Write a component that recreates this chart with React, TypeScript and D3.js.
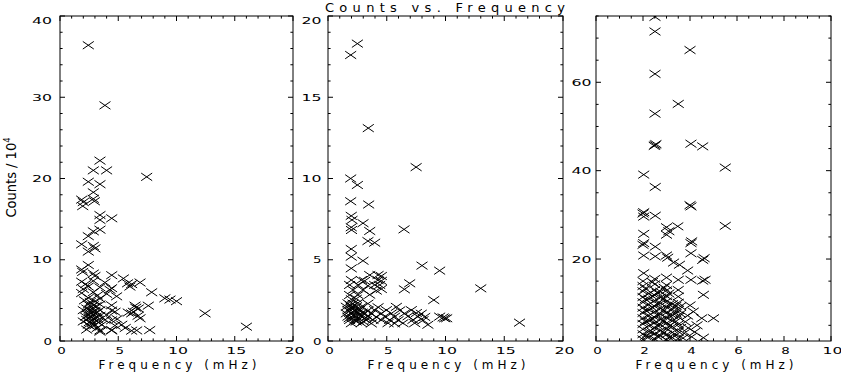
import React from "react";
import * as d3 from "d3";

const W = 841;
const H = 375;
const TOP = 16;
const BOTTOM = 341;

const title = "Counts vs. Frequency";
const xTitle = "Frequency (mHz)";
const yTitle = "Counts / 10";
const yTitleSup = "4";

type Pt = [number, number];

// panel 1 : counts (1e4) vs frequency (mHz)
const pointsA: Pt[] = [
  [2.43, 36.4], [3.86, 29.0], [3.43, 22.2], [2.86, 21.0], [4.0, 21.0], [7.44, 20.2],
  [2.43, 19.6], [3.43, 19.3], [2.86, 18.3], [2.86, 17.5], [2.95, 17.2], [1.86, 17.4],
  [2.0, 17.1], [1.95, 16.6], [3.43, 15.5], [4.44, 15.1], [3.43, 14.9], [3.43, 13.7],
  [2.86, 13.5], [2.43, 12.9], [1.86, 11.9], [2.86, 11.7], [3.0, 11.4], [2.43, 11.0],
  [2.43, 9.35], [1.86, 8.8], [1.95, 8.5], [2.86, 8.3], [3.0, 8.0], [4.44, 8.1],
  [5.44, 7.7], [5.8, 7.1], [6.15, 7.0], [6.87, 7.2], [6.0, 6.7], [7.87, 6.0],
  [9.0, 5.25], [9.44, 5.1], [10.0, 4.9], [12.45, 3.4], [16.0, 1.76], [7.7, 1.35],
  [6.44, 4.35], [6.72, 4.0], [7.58, 4.35], [5.86, 3.5], [6.15, 3.4], [6.87, 2.8],
  [6.15, 1.27], [6.58, 1.3], [4.44, 1.35], [3.43, 1.15],
  [1.86, 7.3], [2.86, 7.4], [3.86, 7.2], [2.2, 7.0],
  [2.43, 6.7], [3.43, 6.6], [4.43, 6.5], [2.0, 6.4],
  [1.86, 5.9], [2.86, 6.0], [4.0, 5.8], [3.2, 5.6],
  [2.43, 5.3], [3.43, 5.2], [2.1, 5.0],
  [2.43, 4.5], [2.86, 4.4], [2.7, 4.2], [3.43, 4.5], [4.43, 4.4], [3.1, 4.3], [2.3, 4.0],
  [2.0, 3.8], [2.58, 3.85], [3.0, 3.7], [3.43, 3.8], [4.43, 3.75], [2.8, 3.6], [2.5, 3.5],
  [2.43, 3.2], [2.86, 3.3], [3.43, 3.1], [4.0, 3.2], [2.2, 3.0], [3.1, 3.0],
  [2.29, 2.6], [2.72, 2.5], [3.29, 2.6], [3.86, 2.6], [4.43, 2.55], [2.0, 2.4],
  [2.43, 2.0], [3.0, 1.95], [3.58, 2.0], [4.72, 1.9], [2.8, 2.2],
  [2.29, 1.4], [3.43, 1.3], [4.43, 1.3],
  [4.29, 6.3], [4.86, 5.5], [4.72, 3.6], [5.3, 2.0], [4.9, 2.7], [5.6, 1.6],
  [6.3, 3.6], [6.5, 4.1], [6.7, 3.1],
  [2.6, 1.8], [3.2, 1.6], [2.5, 2.9], [3.2, 3.5], [2.7, 3.0], [3.3, 2.3], [2.9, 2.7],
  [2.6, 4.8], [3.0, 4.9], [2.5, 2.3],
];

// panel 2
const pointsB: Pt[] = [
  [1.93, 17.6], [2.5, 18.3], [3.43, 13.1], [7.5, 10.7], [1.93, 10.0], [2.5, 9.6],
  [1.93, 8.6], [3.46, 8.4], [1.98, 7.7], [2.04, 7.45], [2.98, 7.25], [1.98, 7.0],
  [2.0, 6.83], [3.55, 6.77], [6.47, 6.87], [3.4, 6.15], [3.97, 6.05], [1.98, 5.66],
  [1.98, 5.19], [2.98, 4.94], [1.98, 4.47], [8.0, 4.64], [9.5, 4.33], [13.0, 3.24],
  [6.5, 3.18], [6.95, 3.55], [9.0, 2.52], [16.3, 1.13], [8.5, 1.0], [9.5, 1.5],
  [9.93, 1.4], [9.8, 1.45], [10.1, 1.4],
  [3.55, 4.06], [4.26, 4.06], [4.54, 4.0],
  [1.99, 3.75], [2.84, 3.75], [3.12, 3.7], [4.26, 3.75], [4.54, 3.7],
  [1.84, 3.45], [2.55, 3.45], [3.4, 3.4], [3.97, 3.45], [4.4, 3.45],
  [2.13, 3.14], [2.98, 3.14], [4.11, 3.1], [4.54, 3.2],
  [1.84, 2.83], [2.55, 2.83], [3.55, 2.85],
  [1.99, 2.57], [2.41, 2.6],
  [1.7, 2.32], [2.13, 2.3], [2.55, 2.35], [3.4, 2.3],
  [1.56, 2.11], [1.99, 2.1], [2.41, 2.12], [2.84, 2.1], [4.26, 2.08], [5.82, 2.1],
  [1.7, 1.9], [2.27, 1.9], [2.7, 1.92], [3.4, 1.88], [3.97, 1.9], [4.97, 1.9], [6.1, 1.88], [7.09, 1.9],
  [1.56, 1.7], [1.99, 1.7], [2.55, 1.72], [3.12, 1.7], [3.69, 1.68], [4.54, 1.7], [5.39, 1.7],
  [6.52, 1.7], [7.52, 1.72], [7.94, 1.68],
  [1.7, 1.5], [2.27, 1.5], [2.84, 1.52], [3.4, 1.5], [4.11, 1.48], [4.82, 1.5], [5.67, 1.5],
  [6.81, 1.52], [7.66, 1.5], [8.23, 1.48],
  [1.84, 1.29], [2.55, 1.3], [3.26, 1.28], [3.83, 1.3], [4.54, 1.29], [5.25, 1.3], [5.96, 1.28],
  [7.23, 1.3], [8.09, 1.28],
  [1.99, 1.09], [2.84, 1.1], [3.69, 1.08], [5.11, 1.1], [5.67, 1.08], [6.38, 1.1], [7.38, 1.1],
  [2.0, 2.0], [2.2, 1.6], [1.8, 1.4], [2.4, 1.2], [2.1, 1.8], [2.6, 1.9], [1.9, 2.2],
  [2.3, 1.3], [2.7, 1.6], [3.0, 1.2], [3.2, 1.45], [2.9, 1.75],
];

// panel 3
const pointsC: Pt[] = [
  [2.51, 74.8], [2.51, 71.5], [4.0, 67.3], [2.51, 61.9], [3.5, 55.1], [2.51, 52.9],
  [2.51, 45.8], [2.55, 46.0], [2.48, 45.6], [4.04, 46.1], [4.54, 45.5], [5.5, 40.7],
  [2.03, 39.1], [2.52, 36.3], [4.04, 31.9], [4.0, 32.2], [2.03, 30.6], [2.0, 30.3],
  [2.03, 29.6], [2.52, 29.8], [3.0, 27.2], [3.48, 27.4], [5.5, 27.5], [3.0, 25.5],
  [3.1, 26.3], [2.03, 25.7], [2.03, 23.6], [2.0, 23.2], [2.52, 22.8], [4.04, 23.6],
  [2.03, 20.8], [2.52, 20.6], [3.0, 20.8], [3.05, 20.3], [4.04, 21.3], [4.54, 19.8],
  [3.55, 18.7], [2.03, 16.8], [3.0, 15.8], [3.5, 15.3], [4.04, 15.3], [4.54, 15.1],
  [2.5, 15.5], [4.07, 24.0], [4.6, 20.2], [3.3, 19.2], [3.9, 17.4],
  [2.0, 1.8], [2.0, 3.0], [2.0, 4.1], [2.0, 5.3], [2.0, 6.6], [2.0, 7.8], [2.0, 9.0],
  [2.0, 10.2], [2.0, 11.4], [2.0, 12.7], [2.0, 13.9], [2.0, 15.0],
  [2.25, 2.4], [2.25, 3.6], [2.25, 4.9], [2.25, 6.1], [2.25, 7.2], [2.25, 8.5],
  [2.25, 9.7], [2.25, 11.0], [2.25, 12.2],
  [2.5, 1.9], [2.5, 3.1], [2.5, 4.4], [2.5, 5.6], [2.5, 6.8], [2.5, 8.1], [2.5, 9.3],
  [2.5, 10.6], [2.5, 11.8], [2.5, 13.0], [2.5, 14.3],
  [2.75, 2.6], [2.75, 3.8], [2.75, 5.1], [2.75, 6.3], [2.75, 7.5], [2.75, 8.8],
  [2.75, 10.0], [2.75, 11.3], [2.75, 12.6],
  [3.0, 1.7], [3.0, 2.9], [3.0, 4.2], [3.0, 5.5], [3.0, 6.7], [3.0, 7.9], [3.0, 9.1],
  [3.0, 10.4], [3.0, 11.6], [3.0, 12.9], [3.0, 14.1],
  [3.25, 2.2], [3.25, 3.4], [3.25, 4.7], [3.25, 6.0], [3.25, 7.3], [3.25, 8.6], [3.25, 9.8],
  [3.5, 2.0], [3.5, 3.6], [3.5, 5.2], [3.5, 6.9], [3.5, 8.5], [3.5, 10.1], [3.5, 11.5], [3.5, 13.0],
  [3.8, 5.8], [3.93, 4.4], [4.07, 2.4], [4.14, 8.1], [4.57, 2.2], [4.5, 6.6], [5.0, 6.6],
  [4.57, 11.9], [4.64, 15.3], [3.75, 3.2], [4.2, 3.5], [4.0, 9.5], [3.9, 7.2], [4.3, 5.0],
  [3.7, 2.1],
  [2.1, 2.6], [2.1, 5.9], [2.1, 8.4], [2.1, 10.9], [2.1, 13.3],
  [2.4, 3.5], [2.4, 6.4], [2.4, 9.0], [2.4, 11.6], [2.4, 14.8],
  [2.6, 2.5], [2.6, 5.0], [2.6, 7.4], [2.6, 9.9], [2.6, 12.4],
  [2.9, 3.4], [2.9, 6.0], [2.9, 8.4], [2.9, 11.0], [2.9, 13.5],
  [3.1, 2.3], [3.1, 4.8], [3.1, 7.3], [3.1, 9.7], [3.1, 12.2],
  [3.4, 2.8], [3.4, 5.9], [3.4, 7.7], [3.4, 9.4],
  [3.6, 4.4], [3.6, 7.6], [3.6, 9.3],
];

const xTicksA = [0, 5, 10, 15, 20];
const yTicksA = [0, 10, 20, 30, 40];
const yTicksB = [0, 5, 10, 15, 20];
const xTicksC = [0, 2, 4, 6, 8, 10];
const yTicksC = [20, 40, 60];

const panels = [
  { id: "a", x0: 60, x1: 293, xDomain: [0, 20], yDomain: [0, 40], xTicks: xTicksA, xMinor: 1,
    yTicks: yTicksA, yMinor: 2, gap: 8, points: pointsA },
  { id: "b", x0: 328, x1: 563, xDomain: [0, 20], yDomain: [0, 20], xTicks: xTicksA, xMinor: 1,
    yTicks: yTicksB, yMinor: 1, gap: 6.5, points: pointsB },
  { id: "c", x0: 596, x1: 831, xDomain: [0, 10], yDomain: [1.45, 75], xTicks: xTicksC, xMinor: 0.5,
    yTicks: yTicksC, yMinor: 5, gap: 4.5, points: pointsC },
];

const FONT = "'DejaVu Sans', sans-serif";
const MAJ = 5;
const MIN = 2.6;

function minorTicks(domain: number[], step: number, majors: number[]) {
  const lo = Math.ceil(domain[0] / step) * step;
  return d3.range(lo, domain[1] + 1e-9, step).filter(
    (v) => !majors.some((m) => Math.abs(m - v) < 1e-9)
  );
}

function Panel({ p }: { p: (typeof panels)[number] }) {
  const x = d3.scaleLinear().domain(p.xDomain).range([p.x0, p.x1]);
  const y = d3.scaleLinear().domain(p.yDomain).range([BOTTOM, TOP]);
  const xMin = minorTicks(p.xDomain, p.xMinor, p.xTicks);
  const yMin = minorTicks(p.yDomain, p.yMinor, p.yTicks);
  const lw = (s: string) => (s.length === 1 ? 8.5 : 20);
  return (
    <g>
      <defs>
        <clipPath id={`clip-${p.id}`}>
          <rect x={p.x0} y={TOP} width={p.x1 - p.x0} height={BOTTOM - TOP} />
        </clipPath>
      </defs>
      <g clipPath={`url(#clip-${p.id})`} stroke="#000" strokeWidth={1} fill="none">
        {p.points.map((d, i) => (
          <path
            key={i}
            transform={`translate(${x(d[0])},${y(d[1])})`}
            d="M-5.5,-3.8L5.5,3.8M-5.5,3.8L5.5,-3.8"
          />
        ))}
      </g>
      <rect x={p.x0} y={TOP} width={p.x1 - p.x0} height={BOTTOM - TOP} fill="none" stroke="#000" strokeWidth={1} />
      <g stroke="#000" strokeWidth={1}>
        {p.xTicks.map((t) => (
          <g key={`xt${t}`}>
            <line x1={x(t)} x2={x(t)} y1={BOTTOM} y2={BOTTOM - MAJ} />
            <line x1={x(t)} x2={x(t)} y1={TOP} y2={TOP + MAJ} />
          </g>
        ))}
        {xMin.map((t) => (
          <g key={`xm${t}`}>
            <line x1={x(t)} x2={x(t)} y1={BOTTOM} y2={BOTTOM - MIN} />
            <line x1={x(t)} x2={x(t)} y1={TOP} y2={TOP + MIN} />
          </g>
        ))}
        {p.yTicks.map((t) => (
          <g key={`yt${t}`}>
            <line x1={p.x0} x2={p.x0 + MAJ} y1={y(t)} y2={y(t)} />
            <line x1={p.x1} x2={p.x1 - MAJ} y1={y(t)} y2={y(t)} />
          </g>
        ))}
        {yMin.map((t) => (
          <g key={`ym${t}`}>
            <line x1={p.x0} x2={p.x0 + MIN} y1={y(t)} y2={y(t)} />
            <line x1={p.x1} x2={p.x1 - MIN} y1={y(t)} y2={y(t)} />
          </g>
        ))}
      </g>
      <g fontFamily={FONT} fontSize={9.5} fill="#000">
        {p.xTicks.map((t) => {
          const s = String(t);
          return (
            <text key={`xl${t}`} x={x(t) + 1.5} y={354} textAnchor="middle"
              textLength={lw(s)} lengthAdjust="spacingAndGlyphs">{s}</text>
          );
        })}
        {p.yTicks.map((t) => {
          const s = String(t);
          const cy = Math.max(y(t), TOP + 4.5);
          return (
            <text key={`yl${t}`} x={p.x0 - p.gap} y={cy + 3.5} textAnchor="end"
              textLength={lw(s)} lengthAdjust="spacingAndGlyphs">{s}</text>
          );
        })}
      </g>
      <text x={(p.x0 + p.x1) / 2 + 1} y={369} textAnchor="middle" fontFamily={FONT} fontSize={12}
        textLength={158} lengthAdjust="spacing">{xTitle}</text>
    </g>
  );
}

export default function App() {
  return (
    <svg width={W} height={H} style={{ position: "absolute", left: 0, top: 0, background: "#fff" }}>
      <rect width={W} height={H} fill="#fff" />
      <text x={445} y={12} textAnchor="middle" fontFamily={FONT} fontSize={13}
        textLength={240} lengthAdjust="spacing">{title}</text>
      <text transform="translate(16,177.5) rotate(-90)" textAnchor="middle" fontFamily={FONT}
        fontSize={14} textLength={80} lengthAdjust="spacingAndGlyphs">
        {yTitle}
        <tspan dy={-6} fontSize={9}>{yTitleSup}</tspan>
      </text>
      {panels.map((p) => (
        <Panel key={p.id} p={p} />
      ))}
    </svg>
  );
}
